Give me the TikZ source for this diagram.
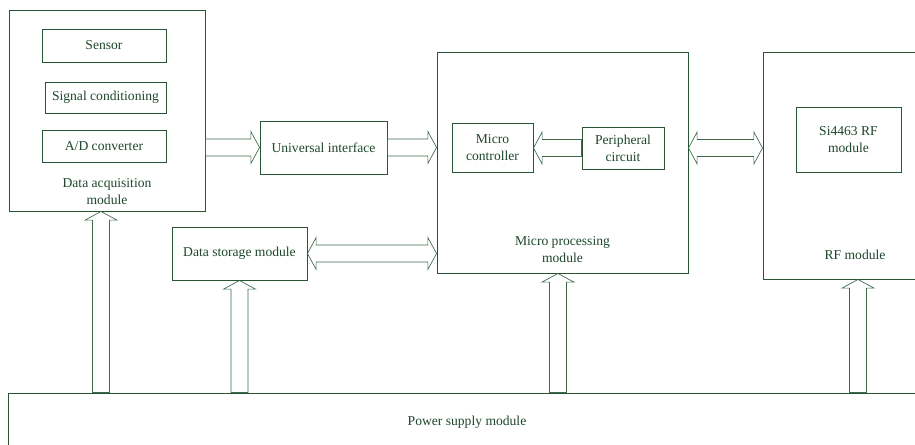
\documentclass[tikz,border=0pt]{standalone}
\usepackage{fontspec}
\setmainfont{Liberation Serif}
\usetikzlibrary{calc,positioning}
\definecolor{boxGreen}{RGB}{40,84,54}
\definecolor{arrowGreen}{RGB}{62,104,74}
\definecolor{textGreen}{RGB}{30,70,44}

% hollow block arrows: half shaft width, half head width, head length
\newcommand{\shaftw}{6.4pt}
\newcommand{\headw}{12pt}
\newcommand{\headl}{6.5pt}

\tikzset{
  modbox/.style={draw=boxGreen, line width=0.7pt, inner sep=2pt, align=center},
  modlabel/.style={inner sep=0pt, align=center},
  fatarrow/.style={draw=arrowGreen, line width=0.5pt, to path={
      ($(\tikztotarget)!\headl!(\tikztostart)$) coordinate (fa-b)
      ($(\tikztostart)!\shaftw!90:(\tikztotarget)$)
      -- ($(fa-b)!\shaftw!90:(\tikztotarget)$)
      -- ($(fa-b)!\headw!90:(\tikztotarget)$)
      -- (\tikztotarget)
      -- ($(fa-b)!\headw!-90:(\tikztotarget)$)
      -- ($(fa-b)!\shaftw!-90:(\tikztotarget)$)
      -- ($(\tikztostart)!\shaftw!-90:(\tikztotarget)$)
      -- cycle}},
  fatdarrow/.style={draw=arrowGreen, line width=0.5pt, to path={
      ($(\tikztostart)!\headl!(\tikztotarget)$) coordinate (fa-a)
      ($(\tikztotarget)!\headl!(\tikztostart)$) coordinate (fa-b)
      (\tikztostart)
      -- ($(fa-a)!\headw!90:(\tikztotarget)$)
      -- ($(fa-a)!\shaftw!90:(\tikztotarget)$)
      -- ($(fa-b)!\shaftw!90:(\tikztotarget)$)
      -- ($(fa-b)!\headw!90:(\tikztotarget)$)
      -- (\tikztotarget)
      -- ($(fa-b)!\headw!-90:(\tikztotarget)$)
      -- ($(fa-b)!\shaftw!-90:(\tikztotarget)$)
      -- ($(fa-a)!\shaftw!-90:(\tikztotarget)$)
      -- ($(fa-a)!\headw!-90:(\tikztotarget)$)
      -- cycle}}
}

\begin{document}
\begin{tikzpicture}[x=0.75pt, y=-0.75pt, font=\fontsize{10.2}{12.7}\selectfont, text=textGreen]
  \useasboundingbox (0,0) rectangle (915,445);
  \clip (0,0) rectangle (915,445);

  % data acquisition
  \node[modbox, minimum width=147pt, minimum height=150.75pt] (daq) at (107,110.5) {};
  \node[modbox, minimum width=93pt, minimum height=24.75pt] (sensor) at (104,45.5) {Sensor};
  \node[modbox, minimum width=90.75pt, minimum height=23.25pt] (sigcond) at (105.5,97.5) {Signal conditioning};
  \node[modbox, minimum width=93pt, minimum height=24pt] (adc) at (104,146) {A/D converter};
  \node[modlabel, above=5.25pt of daq.south] (daqlabel) {Data acquisition\\module};

  \node[modbox, minimum width=95.25pt, minimum height=39.75pt] (ui) at (323.5,147.5) {Universal interface};
  \node[modbox, minimum width=101.25pt, minimum height=39.75pt] (dsm) at (239.5,253.5) {Data storage module};

  % micro processing
  \node[modbox, minimum width=188.25pt, minimum height=165.75pt] (mpm) at (562.5,162.5) {};
  \node[modbox, minimum width=60.75pt, minimum height=36.75pt] (mcu) at (492.5,147.5) {Micro\\controller};
  \node[modbox, minimum width=61.5pt, minimum height=31.5pt] (periph) at (623,148) {Peripheral\\circuit};
  \node[modlabel, above=8.25pt of mpm.south] (mpmlabel) {Micro processing\\module};

  % rf
  \node[modbox, minimum width=138pt, minimum height=170.25pt] (rf) at (855,165.5) {};
  \node[modbox, minimum width=78.75pt, minimum height=48.75pt] (si) at (848.5,139.5) {Si4463 RF\\module};
  \node[modlabel, above=15pt of rf.south] (rflabel) {RF module};

  \node[modbox, minimum width=688.5pt, minimum height=43.5pt] (psu) at (467,422) {Power supply module};

  % data paths
  \draw[fatarrow] (daq.east |- ui.west) to (ui.west);
  \draw[fatarrow] (ui.east) to (ui.east -| mpm.west);
  \draw[fatarrow] (periph.west) to (periph.west -| mcu.east);
  \draw[fatdarrow] (periph.west -| mpm.east) to (periph.west -| rf.west);
  \draw[fatdarrow] (dsm.east) to (dsm.east -| mpm.west);

  % power feeds
  \draw[fatarrow] ([xshift=-4.5pt]daq.south |- psu.north) to ([xshift=-4.5pt]daq.south);
  \draw[fatarrow] (dsm.south |- psu.north) to (dsm.south);
  \draw[fatarrow] ([xshift=-3.4pt]mpm.south |- psu.north) to ([xshift=-3.4pt]mpm.south);
  \draw[fatarrow] ([xshift=2.25pt]rf.south |- psu.north) to ([xshift=2.25pt]rf.south);
\end{tikzpicture}
\end{document}
